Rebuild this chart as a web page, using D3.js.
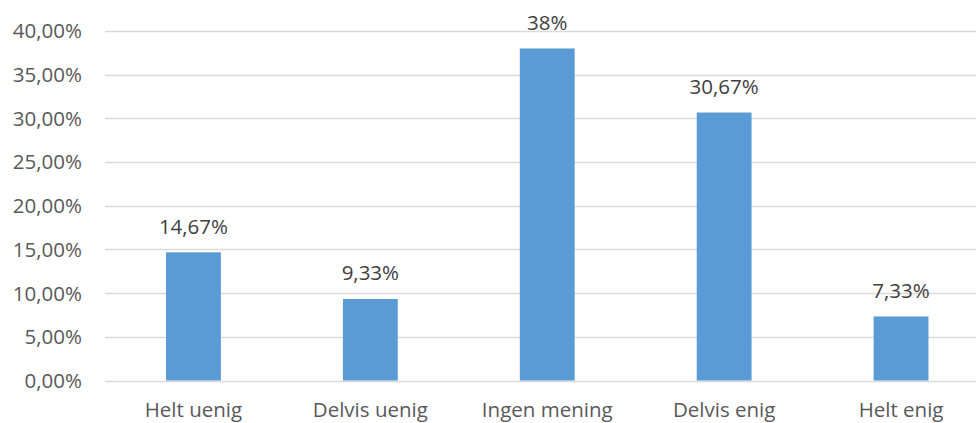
<!DOCTYPE html>
<html>
<head>
<meta charset="utf-8">
<script src="https://cdn.jsdelivr.net/npm/d3@7"></script>
<style>
  html, body { margin: 0; padding: 0; background: #fff; }
  svg { display: block; }
  text { font-family: "Open Sans", sans-serif; }
</style>
</head>
<body>
<svg id="chart" width="976" height="423"></svg>
<script>
const categories = ["Helt uenig", "Delvis uenig", "Ingen mening", "Delvis enig", "Helt enig"];
const values = [14.67, 9.33, 38, 30.67, 7.33];
const valueLabels = ["14,67%", "9,33%", "38%", "30,67%", "7,33%"];
const yTicks = [0, 5, 10, 15, 20, 25, 30, 35, 40];

(function () {
const svg = d3.select("#chart");
const mLeft = 105, mRight = 989.5, mTop = 31, mBottom = 380.5;

const x = d3.scaleBand().domain(categories).range([mLeft, mRight])
  .paddingInner(0.69).paddingOuter(0.345);
const y = d3.scaleLinear().domain([0, 40]).range([mBottom, mTop]);

const fmt = v => v.toFixed(2).replace(".", ",") + "%";

// gridlines
svg.append("g").selectAll("line").data(yTicks).join("line")
  .attr("x1", mLeft).attr("x2", mRight)
  .attr("y1", d => Math.round(y(d)) + 0.5).attr("y2", d => Math.round(y(d)) + 0.5)
  .attr("stroke", "#D9D9D9").attr("stroke-width", 1.3);

// y tick labels
svg.append("g").selectAll("text").data(yTicks).join("text")
  .attr("x", 82).attr("y", d => y(d)).attr("dy", "0.36em")
  .attr("text-anchor", "end").attr("font-size", 20.5).attr("fill", "#595959")
  .text(fmt);

// bars
svg.append("g").selectAll("rect").data(values).join("rect")
  .attr("x", (d, i) => x(categories[i]))
  .attr("width", x.bandwidth())
  .attr("y", d => y(d))
  .attr("height", d => y(0) - y(d))
  .attr("fill", "#5B9BD5");

// data labels
svg.append("g").selectAll("text").data(values).join("text")
  .attr("x", (d, i) => x(categories[i]) + x.bandwidth() / 2)
  .attr("y", d => y(d) - 18.8)
  .attr("text-anchor", "middle").attr("font-size", 20.5).attr("fill", "#404040")
  .text((d, i) => valueLabels[i]);

// x category labels
svg.append("g").selectAll("text").data(categories).join("text")
  .attr("x", d => x(d) + x.bandwidth() / 2)
  .attr("y", 416.5)
  .attr("text-anchor", "middle").attr("font-size", 20.5).attr("fill", "#595959")
  .text(d => d);
})();
</script>
</body>
</html>
